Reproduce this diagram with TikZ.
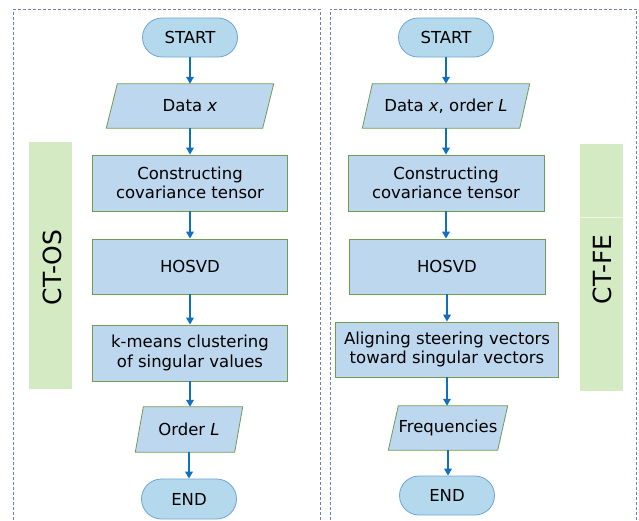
\documentclass[tikz,border=0pt]{standalone}
\usepackage{fontspec}
\setmainfont{DejaVu Sans}
\usetikzlibrary{arrows.meta,shapes.misc}
\definecolor{procfill}{RGB}{189,215,238}
\definecolor{procline}{RGB}{112,155,80}
\definecolor{termfill}{RGB}{180,216,236}
\definecolor{termline}{RGB}{110,165,215}
\definecolor{arrowc}{RGB}{16,112,192}
\definecolor{dashc}{RGB}{110,130,175}
\definecolor{barfill}{RGB}{212,234,194}
\tikzset{
  x=1pt, y=-1pt,
  every node/.style={font=\fontsize{16.5}{19.5}\selectfont, align=center, inner sep=0pt, text=black},
  term/.style={rounded rectangle, draw=termline, fill=termfill, line width=0.8pt, minimum width=95pt, minimum height=39pt},
  proc/.style={rectangle, draw=procline, fill=procfill, line width=0.8pt, minimum height=56pt},
  iobox/.style={rectangle, minimum height=44pt},
  ioshape/.style={draw=procline, fill=procfill, line width=0.8pt},
  flow/.style={draw=arrowc, line width=2pt, -{Triangle[length=7pt,width=7.5pt]}},
  frame/.style={draw=dashc, line width=0.8pt, dash pattern=on 3pt off 2pt},
  bar/.style={fill=barfill, draw=none},
  bartext/.style={font=\fontsize{25}{30}\selectfont, rotate=90}
}
\newcommand{\iopoly}[2]{%
  \path[ioshape] ([xshift=#2pt]#1.north west) -- ([xshift=#2pt]#1.north east) -- ([xshift=-#2pt]#1.south east) -- ([xshift=-#2pt]#1.south west) -- cycle;}
\begin{document}
\begin{tikzpicture}
\useasboundingbox (0,0) rectangle (639,521);
% frames
\draw[frame] (13,9) -- (320,9) -- (320,530);
\draw[frame] (13,530) -- (13,9);
\draw[frame] (330,530) -- (330,9) -- (636.5,9) -- (636.5,530);
% side bars
\fill[bar] (29,142) rectangle (72,389);
\node[bartext] (ctos) at (52.5,267.5) {CT-OS};
\fill[bar] (580,144) rectangle (623,391);
\draw[white!60!barfill, line width=0.6pt] (580,217) -- (623,217);
\node[bartext] (ctfe) at (602,269.5) {CT-FE};
% left flow
\node[term] (start1) at (190,37.5) {START};
\node[iobox, minimum width=156pt] (data1) at (190,106) {};
\iopoly{data1}{5.5}
\node at (data1) {Data \textit{x}};
\node[proc, minimum width=195pt] (cons1) at (190,183) {Constructing\\covariance tensor};
\node[proc, minimum width=195pt, minimum height=55pt] (hosvd1) at (190,266.5) {HOSVD};
\node[proc, minimum width=195pt] (kmeans1) at (190,353) {k-means clustering\\of singular values};
\node[iobox, minimum width=99pt, minimum height=45pt] (order1) at (189,429.5) {};
\iopoly{order1}{4}
\node at (order1) {Order \textit{L}};
\node[term, minimum height=40pt] (end1) at (189,499) {END};
% right flow
\node[term] (start2) at (446,37.5) {START};
\node[iobox, minimum width=157pt] (data2) at (446,106) {};
\iopoly{data2}{5}
\node at (data2) {Data \textit{x}, order \textit{L}};
\node[proc, minimum width=196pt] (cons2) at (446,183) {Constructing\\covariance tensor};
\node[proc, minimum width=196pt, minimum height=55pt] (hosvd2) at (447,266.5) {HOSVD};
\node[proc, minimum width=223pt, minimum height=55pt] (align2) at (447,349.5) {Aligning steering vectors\\toward singular vectors};
\node[iobox, minimum width=109pt] (freq2) at (448,428) {};
\iopoly{freq2}{5}
\node at (freq2) {Frequencies};
\node[term] (end2) at (447,495.5) {END};
% arrows
\foreach \a/\b in {start1/data1, data1/cons1, cons1/hosvd1, hosvd1/kmeans1, kmeans1/order1, order1/end1,
                   start2/data2, data2/cons2, cons2/hosvd2, hosvd2/align2, align2/freq2, freq2/end2}
  \draw[flow] (\a.south) -- (\a.south |- \b.north);
\end{tikzpicture}
\end{document}
